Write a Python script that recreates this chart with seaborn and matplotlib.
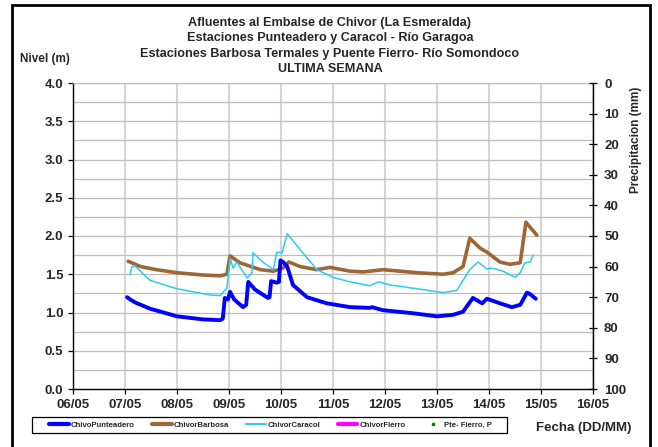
import matplotlib
matplotlib.use('Agg')
import numpy as np
import pandas as pd
import seaborn as sns
import matplotlib.pyplot as plt
from matplotlib.lines import Line2D
from matplotlib.patches import Rectangle

# ---------------- data (x = day of May) ----------------
punt_x = [7.04, 7.10, 7.20, 7.48, 8.00, 8.50, 8.83, 8.88, 8.92, 8.98, 9.02, 9.10, 9.27, 9.33, 9.37,
          9.50, 9.75, 9.78, 9.81, 9.92, 9.96, 9.99, 10.04, 10.12, 10.23, 10.50, 10.88, 11.33, 11.71,
          11.75, 11.96, 12.54, 13.00, 13.31, 13.50, 13.69, 13.87, 13.96, 14.21, 14.44, 14.60, 14.73,
          14.79, 14.90]
punt_y = [1.20, 1.17, 1.13, 1.05, 0.95, 0.91, 0.90, 0.92, 1.19, 1.17, 1.27, 1.17, 1.07, 1.10, 1.40,
          1.30, 1.19, 1.20, 1.41, 1.39, 1.40, 1.68, 1.66, 1.60, 1.36, 1.20, 1.12, 1.07, 1.06,
          1.07, 1.03, 0.99, 0.95, 0.97, 1.01, 1.19, 1.12, 1.18, 1.12, 1.07, 1.10, 1.26,
          1.24, 1.18]

barb_x = [7.06, 7.30, 7.60, 8.00, 8.50, 8.83, 8.96, 9.02, 9.21, 9.60, 9.85, 10.04, 10.15, 10.37,
          10.69, 10.94, 11.33, 11.58, 11.96, 12.62, 13.12, 13.31, 13.50, 13.63, 13.83, 13.96, 14.21,
          14.40, 14.60, 14.71, 14.92]
barb_y = [1.67, 1.60, 1.56, 1.52, 1.49, 1.48, 1.50, 1.74, 1.65, 1.56, 1.54, 1.58, 1.66, 1.60,
          1.56, 1.59, 1.54, 1.53, 1.56, 1.52, 1.50, 1.52, 1.60, 1.97, 1.84, 1.79, 1.66,
          1.63, 1.65, 2.18, 2.01]

cara_x = [7.10, 7.13, 7.19, 7.48, 8.00, 8.63, 8.83, 8.96, 9.02, 9.08, 9.15, 9.35, 9.44, 9.46, 9.65,
          9.85, 9.92, 10.02, 10.12, 10.37, 10.69, 11.00, 11.33, 11.71, 11.87, 12.10, 12.62, 13.12,
          13.38, 13.63, 13.79, 13.96, 14.06, 14.27, 14.50, 14.60, 14.69, 14.79, 14.85]
cara_y = [1.49, 1.60, 1.61, 1.42, 1.31, 1.23, 1.22, 1.32, 1.71, 1.58, 1.66, 1.45, 1.52, 1.78, 1.66,
          1.56, 1.79, 1.78, 2.03, 1.82, 1.56, 1.46, 1.40, 1.35, 1.40, 1.36, 1.31, 1.26,
          1.29, 1.56, 1.66, 1.57, 1.58, 1.54, 1.46, 1.52, 1.65, 1.66, 1.75]

x_ticks = list(range(6, 17))
x_labels = ["06/05", "07/05", "08/05", "09/05", "10/05", "11/05", "12/05", "13/05",
            "14/05", "15/05", "16/05"]
y_ticks = [0.0, 0.5, 1.0, 1.5, 2.0, 2.5, 3.0, 3.5, 4.0]
p_ticks = [0, 10, 20, 30, 40, 50, 60, 70, 80, 90, 100]

series_names = ["ChivoPunteadero", "ChivorBarbosa", "ChivorCaracol", "ChivorFierro", "Pte- Fierro, P"]
title_lines = ["Afluentes al Embalse de Chivor (La Esmeralda)",
               "Estaciones Punteadero y Caracol - Río Garagoa",
               "Estaciones Barbosa Termales y Puente Fierro- Río Somondoco",
               "ULTIMA SEMANA"]

# ---------------- styling ----------------
sns.set_theme(style='white')
plt.rcParams['font.family'] = ['Liberation Sans', 'DejaVu Sans']
plt.rcParams['font.weight'] = 'bold'

W, H = 658, 447
fig = plt.figure(figsize=(W / 100, H / 100), dpi=100)
fig.patch.set_facecolor('white')

x0, x1, y0, y1 = 73, 593, 83, 389
ax = fig.add_axes([x0 / W, 1 - y1 / H, (x1 - x0) / W, (y1 - y0) / H])
ax.set_facecolor('white')

c_blue = '#0000ff'
c_brown = '#9e6636'
c_cyan = '#29ccf5'
c_mag = '#ff00ff'

df_p = pd.DataFrame({'x': punt_x, 'y': punt_y})
df_b = pd.DataFrame({'x': barb_x, 'y': barb_y})
df_c = pd.DataFrame({'x': cara_x, 'y': cara_y})

sns.lineplot(data=df_b, x='x', y='y', ax=ax, color=c_brown, lw=2.6, estimator=None, sort=False, zorder=3)
sns.lineplot(data=df_c, x='x', y='y', ax=ax, color=c_cyan, lw=1.1, estimator=None, sort=False, zorder=4)
sns.lineplot(data=df_p, x='x', y='y', ax=ax, color=c_blue, lw=2.8, estimator=None, sort=False, zorder=5)

ax.set_xlim(6, 16)
ax.set_ylim(0, 4)
ax.set_xticks(x_ticks)
ax.set_xticklabels(x_labels)
ax.set_yticks(y_ticks)
ax.set_yticklabels([f"{v:.1f}" for v in y_ticks])
ax.set_yticks(np.arange(0, 4.01, 0.25), minor=True)
ax.set_xlabel('')
ax.set_ylabel('')
ax.set_axisbelow(True)
ax.grid(False)
ax.grid(which='both', axis='y', color='#bdbdbd', lw=0.9)
ax.grid(which='major', axis='x', color='#d6d6d6', lw=1.5)
ax.tick_params(axis='x', which='major', labelsize=9.5, length=3.6, width=0.9, color='black',
               direction='out', pad=3.5, bottom=True)
ax.tick_params(axis='y', which='major', labelsize=9.5, length=3.6, width=0.9, color='black',
               direction='out', pad=3.5, left=True)
ax.tick_params(axis='y', which='minor', length=0, left=False)
for lab in ax.get_xticklabels() + ax.get_yticklabels():
    lab.set_fontweight('bold')
ax.spines['left'].set_color('black')
ax.spines['left'].set_linewidth(1.0)
ax.spines['bottom'].set_color('black')
ax.spines['bottom'].set_linewidth(1.0)
ax.spines['top'].set_color('#bdbdbd')
ax.spines['top'].set_linewidth(0.9)
ax.spines['right'].set_visible(False)

ax2 = ax.twinx()
ax2.set_ylim(100, 0)
ax2.set_yticks(p_ticks)
ax2.set_yticklabels([str(v) for v in p_ticks])
ax2.grid(False)
for s in ['left', 'top', 'bottom']:
    ax2.spines[s].set_visible(False)
ax2.spines['right'].set_color('black')
ax2.spines['right'].set_linewidth(1.0)
ax2.tick_params(axis='y', labelsize=9.5, length=6, width=0.9, color='black', direction='inout',
                pad=5, right=True)
for lab in ax2.get_yticklabels():
    lab.set_fontweight('bold')

# ---------------- texts ----------------
fig.text(330 / W, 1 - 17 / H, "\n".join(title_lines), ha='center', va='top', fontsize=9.1,
         fontweight='bold', linespacing=1.38)
fig.text(20 / W, 1 - 59 / H, "Nivel (m)", ha='left', va='center', fontsize=8.5, fontweight='bold')
fig.text(636 / W, 1 - 140 / H, "Precipitacion (mm)", ha='center', va='center', rotation=90,
         fontsize=8.5, fontweight='bold')
fig.text(584 / W, 1 - 428 / H, "Fecha (DD/MM)", ha='center', va='center', fontsize=9.5,
         fontweight='bold')

# ---------------- legend ----------------
handles = [Line2D([], [], color=c_blue, lw=3),
           Line2D([], [], color=c_brown, lw=3),
           Line2D([], [], color=c_cyan, lw=1.5),
           Line2D([], [], color=c_mag, lw=3),
           Line2D([], [], color='#008000', marker='s', markersize=1.5, linestyle='None')]
leg = fig.legend(handles, series_names, loc='center left',
                 bbox_to_anchor=(49 / W, 1 - 425 / H),
                 ncol=5, fontsize=5.6, frameon=False,
                 handlelength=2.55, handletextpad=0.25, borderpad=0, columnspacing=2.2,
                 borderaxespad=0)
for t in leg.get_texts():
    t.set_fontweight('bold')
fig.patches.append(Rectangle((32 / W, 1 - 433 / H), (507 - 32) / W, 16 / H, transform=fig.transFigure,
                             fill=False, edgecolor='black', lw=0.9, zorder=10))

# figure border
fig.patches.append(Rectangle((12 / W, -0.05), (650 - 12) / W, 1.05 - 5 / H, transform=fig.transFigure,
                             fill=False, edgecolor='black', lw=2.0, zorder=10))

fig.savefig('out.png', dpi=100, facecolor='white')
